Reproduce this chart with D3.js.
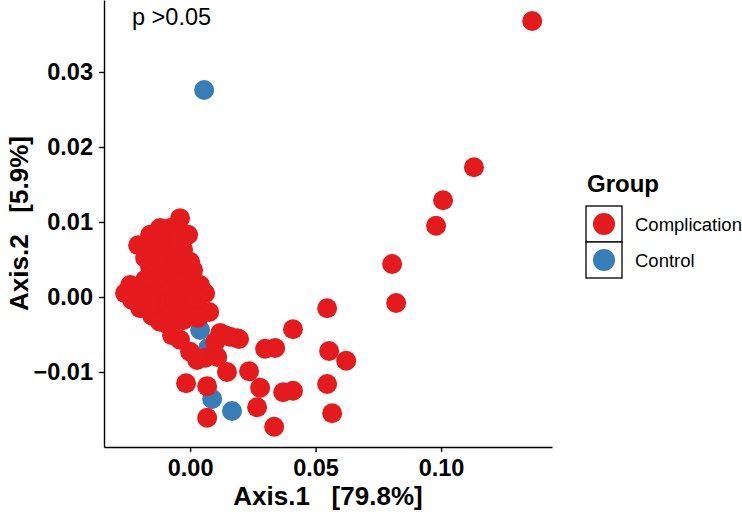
<!DOCTYPE html>
<html>
<head>
    <meta http-equiv="Content-Type" content="text/html;charset=utf-8">
    <title>PCoA scatter</title>
    <script type="text/javascript" src="https://d3js.org/d3.v7.min.js"></script>
    <style>
        html, body {
            margin: 0;
            padding: 0;
            background: #fff;
        }
        text {
            font-family: "Liberation Sans", Arial, sans-serif;
        }
        .tick text {
            font-size: 23.5px;
            font-weight: bold;
            fill: #000;
        }
        text.axisLabel {
            font-size: 26px;
            font-weight: bold;
        }
        .axis path,
        .axis line {
            stroke: #000;
            stroke-width: 1.4px;
        }
    </style>
</head>
<body>
<script type="text/javascript">

    // Axis.1 / Axis.2 coordinates, Control group
    var controlX = [0.0056, 0.0040, 0.0072, 0.0088, 0.0167];
    var controlY = [0.0276, -0.0044, -0.0068, -0.0136, -0.0152];

    // Complication group
    var complicationX = [
        -0.0040, -0.0008, -0.0080, -0.0120, -0.0159, -0.0207, -0.0139, -0.0080, -0.0028, 0.0000,
        -0.0100, -0.0159, -0.0179, -0.0120, -0.0060, 0.0008, 0.0060, -0.0259, -0.0199, -0.0139,
        -0.0080, -0.0020, -0.0199, -0.0151, -0.0088, -0.0100, -0.0040, 0.0020, 0.0076, -0.0028,
        0.0032, -0.0040, 0.0000, 0.0060, 0.0108, 0.0139, 0.0187, -0.0060, -0.0120, -0.0040,
        0.0040, -0.0231, 0.0028, 0.0120, 0.0100,
        -0.0060, -0.0120, -0.0159, -0.0080, -0.0020, -0.0088, -0.0139, -0.0048, 0.0028, -0.0060,
        -0.0179, -0.0072, -0.0120, -0.0239, 0.0012,
        0.0546, 0.0410, 0.0554, 0.0622, 0.0299, 0.0339, 0.0195, 0.0159, 0.0147, 0.0235,
        0.0279, 0.0267, 0.0371, 0.0410, 0.0546, 0.0566, 0.0335, 0.0068, 0.0068, -0.0016,
        0.1363, 0.1131, 0.1008, 0.0980, 0.0805, 0.0821
    ];
    var complicationY = [
        0.0105, 0.0083, 0.0092, 0.0092, 0.0083, 0.0069, 0.0063, 0.0069, 0.0063, 0.0047,
        0.0047, 0.0039, 0.0023, 0.0023, 0.0029, 0.0025, 0.0005, 0.0005, 0.0005, 0.0003,
        0.0007, 0.0007, -0.0015, -0.0025, -0.0037, -0.0011, -0.0015, -0.0011, -0.0020, -0.0031,
        -0.0028, -0.0057, -0.0073, -0.0081, -0.0080, -0.0051, -0.0055, 0.0087, 0.0076, 0.0047,
        0.0016, -0.0004, -0.0084, -0.0048, -0.0060,
        -0.0004, -0.0020, -0.0011, -0.0024, 0.0020, 0.0036, 0.0047, 0.0076, -0.0001, 0.0056,
        0.0052, -0.0051, -0.0033, 0.0016, 0.0036,
        -0.0015, -0.0043, -0.0072, -0.0085, -0.0069, -0.0068, -0.0056, -0.0053, -0.0100, -0.0099,
        -0.0121, -0.0147, -0.0127, -0.0125, -0.0116, -0.0155, -0.0173, -0.0161, -0.0119, -0.0115,
        0.0368, 0.0173, 0.0129, 0.0095, 0.0044, -0.0008
    ];

    var groups = ["Complication", "Control"];
    var colorTable = ["#E41A1C", "#377EB8"];

    var xTicks = [0, 0.05, 0.10];
    var xTickLabels = ["0.00", "0.05", "0.10"];
    var yTicks = [-0.01, 0, 0.01, 0.02, 0.03];
    var yTickLabels = ["\u22120.01", "0.00", "0.01", "0.02", "0.03"];

    var plot = {left: 104, right: 552, top: 0, bottom: 447};

    var x = d3.scaleLinear()
        .domain([-0.0343, 0.1442])
        .range([plot.left, plot.right]);
    var y = d3.scaleLinear()
        .domain([-0.0200, 0.0396])
        .range([plot.bottom, plot.top]);

    var svg = d3.select("body").append("svg")
        .attr("width", 742)
        .attr("height", 512);

    // points: control first, complication drawn on top
    var points = controlX.map(function (v, i) {
        return {x: v, y: controlY[i], g: 1};
    }).concat(complicationX.map(function (v, i) {
        return {x: v, y: complicationY[i], g: 0};
    }));

    svg.append("g")
        .selectAll("circle")
        .data(points).enter()
        .append("circle")
        .attr("cx", function (d) { return x(d.x); })
        .attr("cy", function (d) { return y(d.y); })
        .attr("r", 10)
        .style("fill", function (d) { return colorTable[d.g]; });

    // axes
    var xAxis = d3.axisBottom(x)
        .tickValues(xTicks)
        .tickFormat(function (d, i) { return xTickLabels[i]; })
        .tickSize(5)
        .tickSizeOuter(0)
        .tickPadding(7);
    var yAxis = d3.axisLeft(y)
        .tickValues(yTicks)
        .tickFormat(function (d, i) { return yTickLabels[i]; })
        .tickSize(5)
        .tickSizeOuter(0)
        .tickPadding(6);

    svg.append("g")
        .attr("class", "axis x")
        .attr("transform", "translate(0," + plot.bottom + ")")
        .call(xAxis);
    svg.append("g")
        .attr("class", "axis y")
        .attr("transform", "translate(" + plot.left + ",0)")
        .call(yAxis);

    svg.append("text")
        .attr("class", "axisLabel")
        .attr("text-anchor", "middle")
        .attr("x", (plot.left + plot.right) / 2)
        .attr("y", 505)
        .style("white-space", "pre")
        .text("Axis.1   [79.8%]");
    svg.append("text")
        .attr("class", "axisLabel")
        .attr("text-anchor", "middle")
        .attr("transform", "translate(28," + (plot.bottom / 2) + ") rotate(-90)")
        .style("white-space", "pre")
        .text("Axis.2   [5.9%]");

    svg.append("text")
        .attr("x", 132)
        .attr("y", 25)
        .style("font-size", "23.5px")
        .text("p >0.05");

    // legend
    var legend = svg.append("g").attr("transform", "translate(586,0)");
    legend.append("text")
        .attr("x", 1)
        .attr("y", 192)
        .style("font-size", "24px")
        .style("font-weight", "bold")
        .text("Group");
    var item = legend.selectAll(".legend")
        .data(groups).enter()
        .append("g")
        .attr("class", "legend")
        .attr("transform", function (d, i) { return "translate(0," + (206 + i * 36) + ")"; });
    item.append("rect")
        .attr("width", 36)
        .attr("height", 36)
        .style("fill", "#fff")
        .style("stroke", "#000")
        .style("stroke-width", 1.3);
    item.append("circle")
        .attr("cx", 18)
        .attr("cy", 18)
        .attr("r", 11)
        .style("fill", function (d, i) { return colorTable[i]; });
    item.append("text")
        .attr("x", 49)
        .attr("y", 25)
        .style("font-size", "18.5px")
        .text(function (d) { return d; });

</script>
</body>
</html>
